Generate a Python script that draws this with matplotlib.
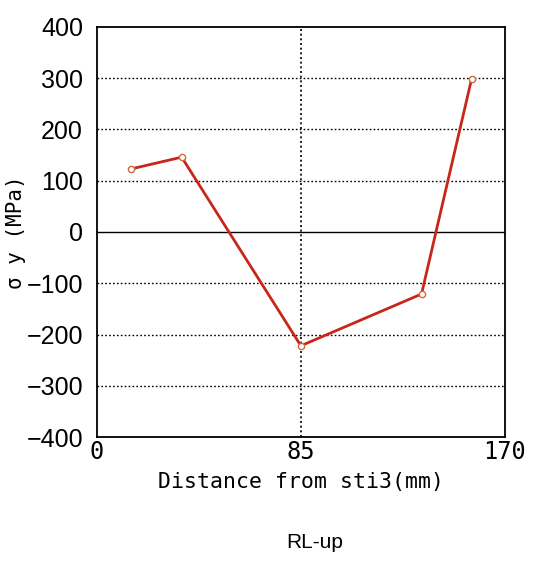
import matplotlib
matplotlib.use("Agg")
import matplotlib.pyplot as plt

# values
distance = [14.2, 35.3, 85.0, 135.3, 156.2]
sigma_y = [123, 146, -222, -121, 299]

x_ticks = [0, 85, 170]
y_ticks = [-400, -300, -200, -100, 0, 100, 200, 300, 400]

line_col = '#c8261a'

fig = plt.figure(figsize=(5.33, 5.62), dpi=100)
ax = fig.add_axes([0.182, 0.2224, 0.765, 0.7296])

# grid: dotted lines, solid zero line
for v in y_ticks[1:-1]:
    if v == 0:
        ax.axhline(v, color='black', lw=1.0, zorder=1)
    else:
        ax.axhline(v, color='black', lw=1.0, ls=(0, (1.2, 1.6)), zorder=1)
ax.axvline(85, color='black', lw=1.2, ls=(0, (1.2, 1.6)), zorder=1)

ax.plot(distance, sigma_y, color=line_col, lw=2.0, zorder=3,
        marker='o', markersize=4.5, markerfacecolor='white',
        markeredgecolor='#d06a3a', markeredgewidth=1.0)

ax.set_xlim(0, 170)
ax.set_ylim(-400, 400)
ax.set_xticks(x_ticks)
ax.set_yticks(y_ticks)
ax.set_yticklabels([str(v).replace('-', '\u2212') for v in y_ticks],
                   fontsize=18,
                   family=['Liberation Sans Narrow', 'Liberation Sans'])
ax.set_xticklabels([str(v) for v in x_ticks], fontsize=17,
                   family='DejaVu Sans Mono')
ax.tick_params(axis='y', length=0, pad=10)
ax.tick_params(axis='x', length=0, pad=2)

for s in ax.spines.values():
    s.set_linewidth(1.3)
    s.set_color('black')

ax.set_xlabel('Distance from sti3(mm)', fontsize=15.5,
              family='DejaVu Sans Mono', labelpad=6)
ax.set_ylabel('σ y (MPa)', fontsize=15, family='DejaVu Sans Mono',
              labelpad=0)

fig.text(0.59, 0.034, 'RL-up', fontsize=15, family='Liberation Sans',
         ha='center', va='center')

fig.savefig('out.png', dpi=100)
